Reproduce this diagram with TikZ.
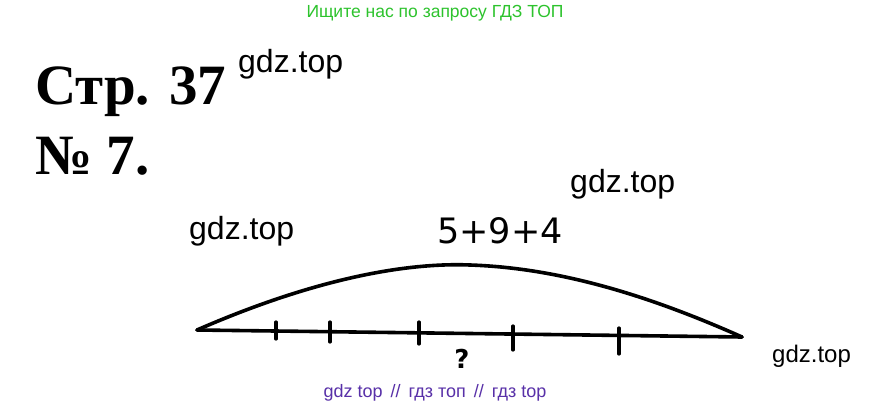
\documentclass[tikz,border=0pt]{standalone}
\usepackage{fontspec}
\setmainfont{Liberation Serif}
\newfontfamily\wmfont{Liberation Sans}
\newfontfamily\handfont{DejaVu Sans}
\definecolor{wmgreen}{RGB}{45,195,45}
\definecolor{wmpurple}{RGB}{88,48,168}
\tikzset{
  wm/.style={font=\wmfont\fontsize{32}{34}\selectfont, anchor=base west, inner sep=0pt},
  head/.style={font=\bfseries\fontsize{57}{60}\selectfont, anchor=base west, inner sep=0pt},
  pen/.style={line width=3.6pt, line cap=round, line join=round, black},
  tickmark/.style={line width=3.2pt, line cap=round, black},
}
\begin{document}
\begin{tikzpicture}[x=1pt,y=-1pt]
\useasboundingbox[fill=white] (0,0) rectangle (872,406);
% top banner
\node[font=\wmfont\fontsize{17.5}{19}\selectfont, text=wmgreen, anchor=base, inner sep=0pt] (banner) at (435,18) {Ищите нас по запросу ГДЗ ТОП};
% headings
\node[head] (page) at (35,105) {Стр. 37};
\node[head] (num) at (35,175) {№ 7.};
% watermarks
\node[wm] (w1) at (238,73) {gdz.top};
\node[wm] (w2) at (570,193) {gdz.top};
\node[wm] (w3) at (189,239) {gdz.top};
\node[wm, font=\wmfont\fontsize{24}{26}\selectfont] (w4) at (772,362) {gdz.top};
\node[font=\wmfont\fontsize{18}{20}\selectfont, text=wmpurple, anchor=base, inner sep=0pt] (footer) at (435,397) {gdz top \,//\, гдз топ \,//\, гдз top};
% handwritten label
\node[font=\handfont\fontsize{35}{37}\selectfont, anchor=base, inner sep=0pt] (sum) at (500,243) {5+9+4};
\node[font=\handfont\bfseries\fontsize{26}{28}\selectfont, anchor=north, inner sep=0pt] (q) at (462,349) {?};
% number line
\coordinate (L) at (197,330);
\coordinate (R) at (742,337);
\draw[pen] (L) -- (R);
\draw[pen] (L) .. controls (300,285) and (395,262) .. (470,265)
               .. controls (560,268) and (650,296) .. (R);
\foreach \x/\a/\b [count=\i] in {276/322/339, 330/322/342, 419/322/344, 513/326/350, 619/328/354}{
  \coordinate (t\i a) at (\x,\a);
  \coordinate (t\i b) at (\x,\b);
  \draw[tickmark] (t\i a) -- (t\i b);
}
\end{tikzpicture}
\end{document}
